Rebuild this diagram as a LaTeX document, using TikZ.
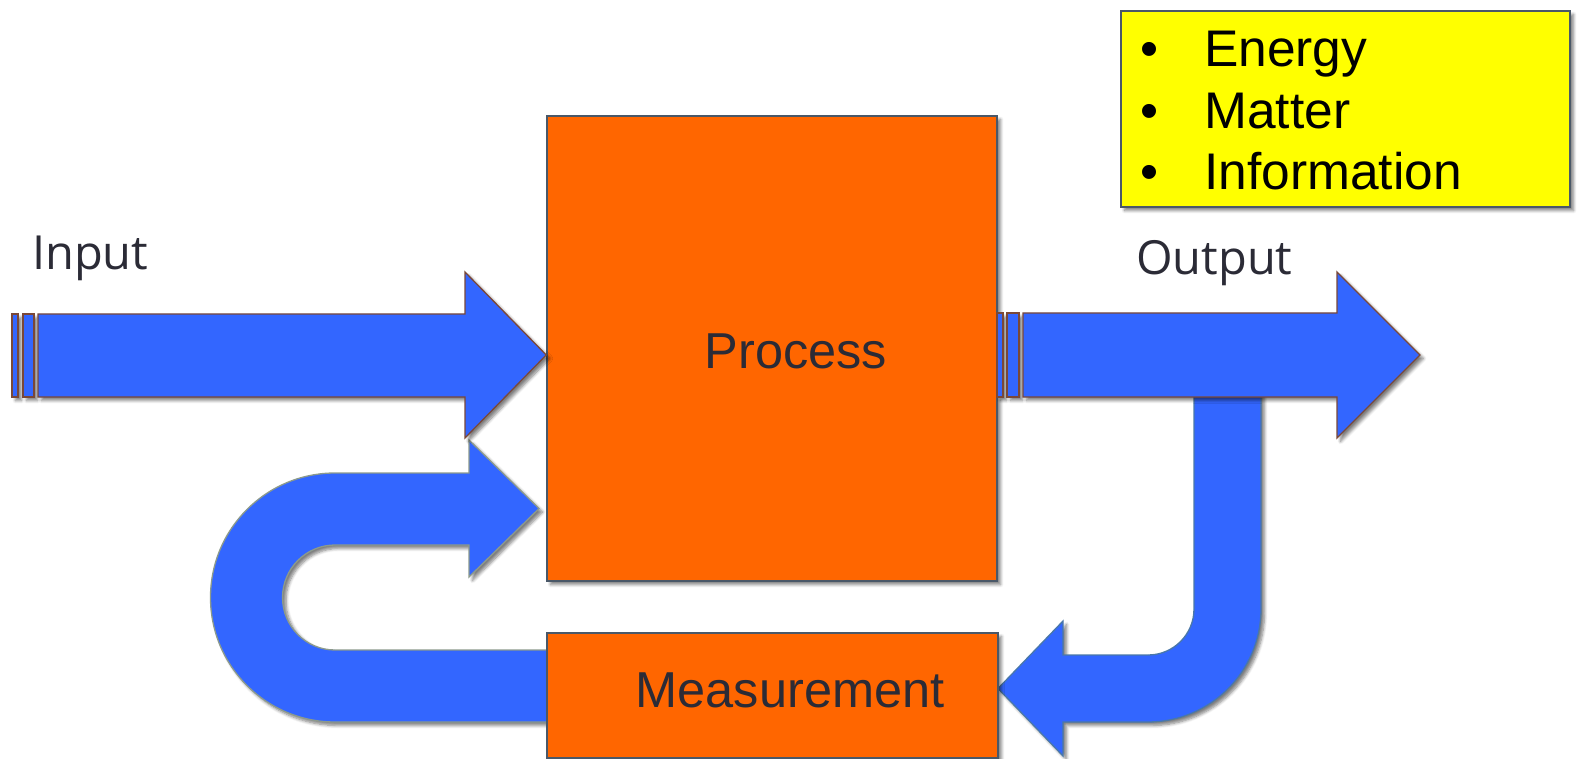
\documentclass[tikz,border=0pt]{standalone}
\usepackage{fontspec}
\setmainfont{Liberation Sans}
\newfontfamily\labelfont{Open Sans}
\usetikzlibrary{shadows.blur}
\definecolor{arrowblue}{HTML}{3366FF}
\definecolor{boxorange}{HTML}{FF6600}
\definecolor{boxedge}{HTML}{4A5868}
\definecolor{brownedge}{HTML}{7A4838}
\definecolor{greyedge}{HTML}{8C9A8C}
\definecolor{steeledge}{HTML}{4A78A8}
\definecolor{textdark}{HTML}{2B2B36}
\definecolor{legendyellow}{HTML}{FFFF00}
\tikzset{
  shade/.style={blur shadow={shadow xshift=3.5pt, shadow yshift=-3.5pt, shadow blur steps=6, shadow blur radius=3pt, shadow opacity=50}},
  blockbox/.style={draw=boxedge, line width=1.5pt, fill=boxorange, shade, inner sep=0pt},
  flowarrow/.style={draw=brownedge, line width=1.3pt, fill=arrowblue, shade, line join=miter},
  loopleft/.style={draw=greyedge, line width=1.3pt, fill=arrowblue, shade},
  loopright/.style={draw=steeledge, line width=1.3pt, fill=arrowblue, shade},
  bigtext/.style={font=\fontsize{50.5}{60}\selectfont, text=textdark, inner sep=0pt},
  sidetext/.style={font=\labelfont\fontsize{47}{56}\selectfont, text=textdark, inner sep=0pt, anchor=base west},
  listtext/.style={font=\fontsize{51.5}{60}\selectfont, text=black, inner sep=0pt},
}
\begin{document}
\begin{tikzpicture}[x=1pt,y=-1pt]
\useasboundingbox (0,0) rectangle (1580,759);

% feedback arrow (left, C-shape)
\draw[loopleft] (560,722) -- (335,722)
  arc[start angle=90, end angle=270, radius=124.5]
  -- (469,473) -- (469,440) -- (539,508.5) -- (469,577) -- (469,545) -- (335,545)
  arc[start angle=270, end angle=90, radius=52.5]
  -- (560,650) -- cycle;

% feedback arrow (right, J-shape)
\draw[loopright] (1194,392) -- (1194,609)
  arc[start angle=0, end angle=90, radius=46]
  -- (1063,655) -- (1063,621) -- (998,688.5) -- (1063,756) -- (1063,722) -- (1148,722)
  arc[start angle=90, end angle=0, radius=113]
  -- (1261,392) -- cycle;

% boxes
\node[blockbox, minimum width=450pt, minimum height=465pt] (proc) at (772,348.5) {};
\node[blockbox, minimum width=451pt, minimum height=125pt] (meas) at (772.5,695.5) {};

% input arrow
\draw[flowarrow] (12,314) rectangle (18,397);
\draw[flowarrow] (23,314) rectangle (34,397);
\coordinate (intip) at (proc.west |- 0,355);
\draw[flowarrow] (38,314) -- (465,314) -- (465,272) -- (intip) -- (465,438) -- (465,397) -- (38,397) -- cycle;

% output arrow
\draw[flowarrow] (997,313) rectangle (1003,397);
\draw[flowarrow] (1007,313) rectangle (1019,397);
\coordinate (outtip) at (1420,355);
\draw[flowarrow] (1023,313) -- (1337,313) -- (1337,272) -- (outtip) -- (1337,438) -- (1337,397) -- (1023,397) -- cycle;

% legend box
\node[draw=boxedge, line width=1.5pt, fill=legendyellow, shade, minimum width=449pt, minimum height=196pt, inner sep=0pt] (info) at (1345.5,109) {};
\node[listtext, anchor=base] (b1) at (1150,67) {•};
\node[listtext, anchor=base west] (t1) at (1204,67) {Energy};
\node[listtext, anchor=base] (b2) at (1150,128.5) {•};
\node[listtext, anchor=base west] (t2) at (1204,128.5) {Matter};
\node[listtext, anchor=base] (b3) at (1150,190) {•};
\node[listtext, anchor=base west] (t3) at (1204,190) {Information};

% labels
\node[bigtext, anchor=base] (ptext) at (796,368) {Process};
\node[bigtext, anchor=base] (mtext) at (790,707) {Measurement};
\node[sidetext] (inlabel) at (32,270) {Input};
\node[sidetext] (outlabel) at (1136,275) {Output};
\end{tikzpicture}
\end{document}
